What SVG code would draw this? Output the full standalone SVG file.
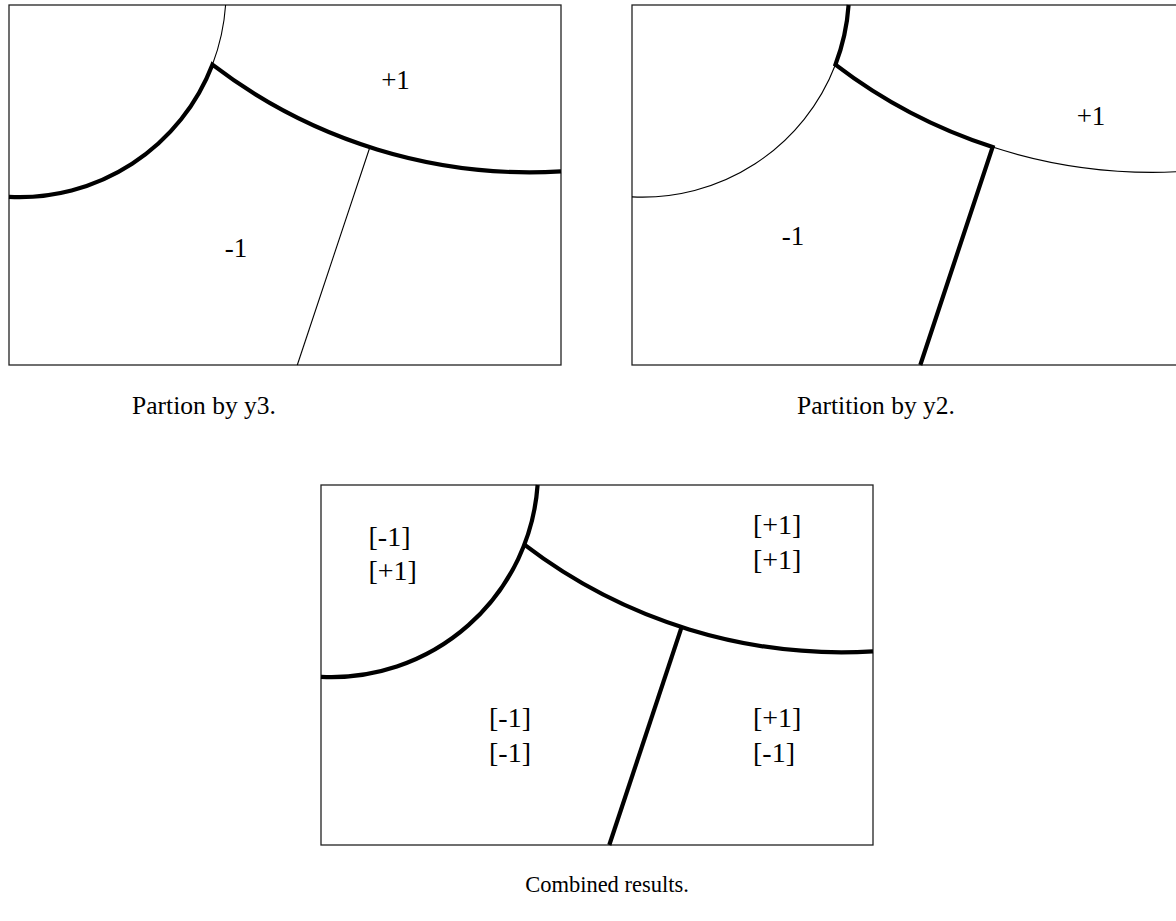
<svg xmlns="http://www.w3.org/2000/svg" width="1176" height="921" viewBox="0 0 1176 921">
<style>
.frame{fill:none;stroke:#222;stroke-width:1.3}
.thin{fill:none;stroke:#000;stroke-width:1.1}
.thick{fill:none;stroke:#000;stroke-width:4.2;stroke-linejoin:miter;stroke-miterlimit:10}
.lbl{font-family:"Liberation Serif","Times New Roman",serif;font-size:27px;fill:#000}
.blbl{font-family:"Liberation Serif","Times New Roman",serif;font-size:28px;fill:#000}
.cap{font-family:"Liberation Serif","Times New Roman",serif;font-size:25.5px;fill:#000;text-anchor:middle}
</style>
<rect width="1176" height="921" fill="#fff"/>
<g id="panel-y3">
  <rect class="frame" x="9" y="5" width="552" height="360"/>
  <g id="panel-y3-boundaries">
    <path class="thin" d="M225.6,5 A206.7,206.7 0 0 1 212.4,64.7"/>
    <path class="thick" d="M9,196.9 A206.7,206.7 0 0 0 212.4,64.7 A522.3,522.3 0 0 0 561,171.4"/>
    <path class="thin" d="M369.6,148 L297.3,365"/>
  </g>
  <text class="lbl" x="395.5" y="88.5" text-anchor="middle">+1</text>
  <text class="lbl" x="236" y="256.5" text-anchor="middle">-1</text>
  <text class="cap" x="204" y="414">Partion by y3.</text>
</g>
<g id="panel-y2">
  <g transform="translate(623,0)">
    <rect class="frame" x="9" y="5" width="552" height="360"/>
    <g id="panel-y2-boundaries">
      <path class="thick" d="M225.6,5 A206.7,206.7 0 0 1 212.4,64.7 A522.3,522.3 0 0 0 369.6,147.1 L297.3,365"/>
      <path class="thin" d="M212.4,64.7 A206.7,206.7 0 0 1 9,196.9"/>
      <path class="thin" d="M369.6,147.1 A522.3,522.3 0 0 0 561,171.4"/>
    </g>
  </g>
  <text class="lbl" x="1091" y="125" text-anchor="middle">+1</text>
  <text class="lbl" x="793" y="245" text-anchor="middle">-1</text>
  <text class="cap" x="876" y="414">Partition by y2.</text>
</g>
<g id="panel-combined">
  <g transform="translate(312,480)">
    <rect class="frame" x="9" y="5" width="552" height="360"/>
    <g id="panel-combined-boundaries">
      <path class="thick" d="M225.6,5 A206.7,206.7 0 0 1 9,196.9"/>
      <path class="thick" d="M212.4,64.7 A522.3,522.3 0 0 0 561,171.4"/>
      <path class="thick" d="M369.6,147.1 L297.3,365"/>
    </g>
  </g>
  <text class="blbl" x="368.5" y="546">[-1]</text>
  <text class="blbl" x="368.5" y="580">[+1]</text>
  <text class="blbl" x="753" y="534">[+1]</text>
  <text class="blbl" x="753" y="569">[+1]</text>
  <text class="blbl" x="489" y="727">[-1]</text>
  <text class="blbl" x="489" y="762">[-1]</text>
  <text class="blbl" x="753" y="727">[+1]</text>
  <text class="blbl" x="753" y="762">[-1]</text>
  <text class="cap" x="607" y="892" style="font-size:22.5px">Combined results.</text>
</g>
</svg>
